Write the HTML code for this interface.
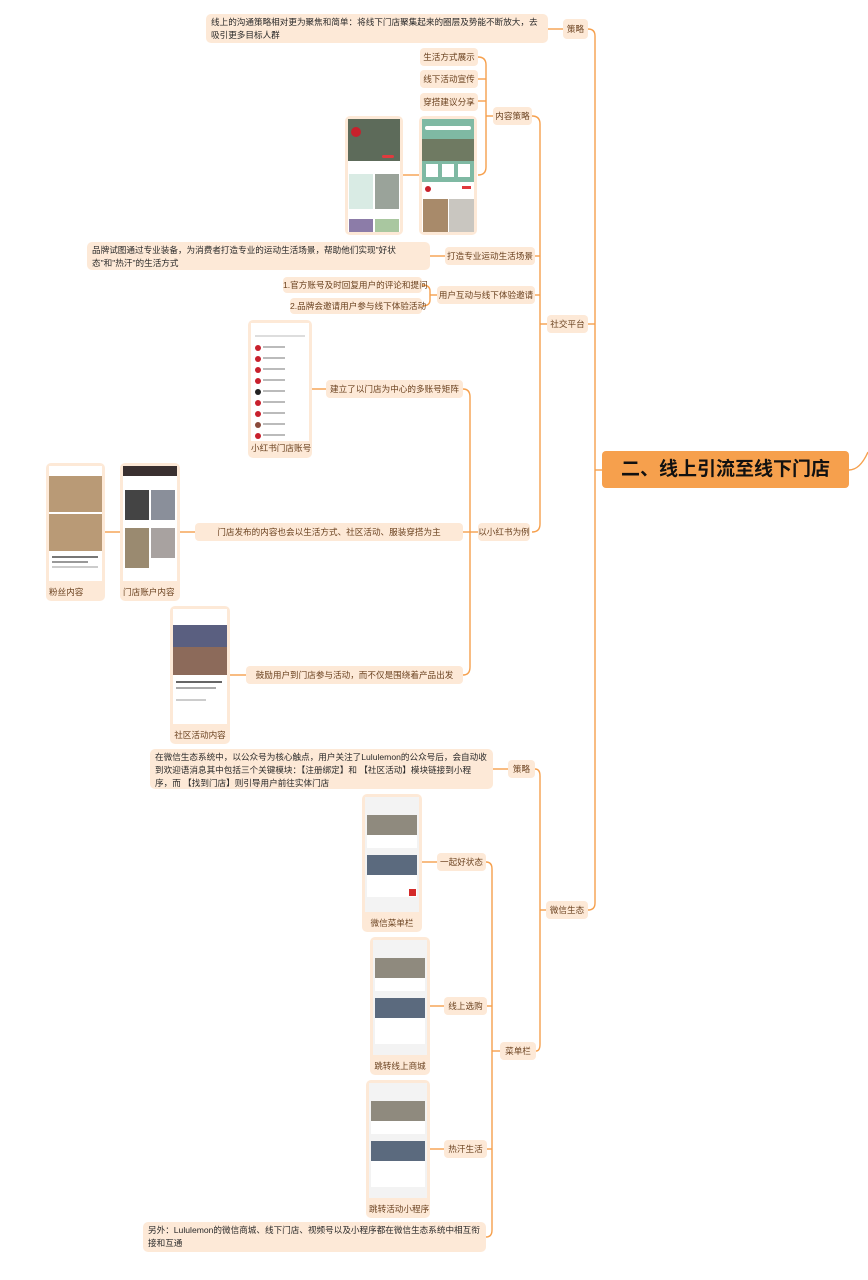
<!DOCTYPE html>
<html><head><meta charset="utf-8"><style>
body{margin:0;width:868px;height:1280px;background:#fff;position:relative;overflow:hidden;font-family:"Liberation Sans","Noto Sans CJK SC",sans-serif;}
.n{position:absolute;background:#fde9d7;border-radius:4px;color:#6b4220;font-size:8.6px;line-height:18px;text-align:center;white-space:nowrap;}
.t{position:absolute;background:#fde9d7;border-radius:5px;color:#2a2a2a;font-size:8.6px;line-height:13px;padding:2px 5px;box-sizing:border-box;}
.card{position:absolute;background:#fde9d7;border-radius:5px;box-sizing:border-box;padding:3px;}
.scr{background:#fff;overflow:hidden;position:relative;}
.lab{font-size:8.6px;color:#6b4220;text-align:center;line-height:14px;white-space:nowrap;}
.b{position:absolute;}
svg{position:absolute;left:0;top:0;}
.root{position:absolute;left:602px;top:451px;width:247px;height:37px;background:#f6a04d;border-radius:4px;font-size:19px;font-weight:bold;color:#111;line-height:37px;text-align:center;}
</style></head><body>
<svg width="868" height="1280" fill="none" stroke="#f6a04d" stroke-width="1.4">
<path d="M588 29 Q595 29 595 36 V903 Q595 910 588 910"/><path d="M595 470 H602"/><path d="M588 324 H595"/>
<path d="M849 470 Q860 470 868 452"/>
<path d="M548 29 H563"/>
<path d="M532 116 Q540 116 540 124 V524 Q540 532 532 532"/><path d="M535 256 H540"/><path d="M535 295 H540"/><path d="M540 324 H547"/>
<path d="M478 57 Q486 57 486 65 V167 Q486 175 478 175"/><path d="M478 79 H486"/><path d="M478 101 H486"/><path d="M486 116 H493"/>
<path d="M403 175 H419"/><path d="M430 256 H445"/>
<path d="M422 285 Q430 285 430 291 V300 Q430 306 422 306"/><path d="M430 295 H437"/>
<path d="M463 389 Q470 389 470 397 V667 Q470 675 463 675"/><path d="M470 532 H478"/><path d="M463 532 H470"/>
<path d="M312 389 H326"/><path d="M180 532 H195"/><path d="M105 532 H120"/><path d="M230 675 H246"/>
<path d="M535 769 Q540 769 540 776 V1044 Q540 1051 536 1051"/><path d="M540 910 H546"/><path d="M493 769 H508"/>
<path d="M486 862 Q492 862 492 869 V1230 Q492 1237 486 1237"/><path d="M492 1051 H500"/><path d="M487 1006 H492"/><path d="M487 1149 H492"/>
<path d="M422 862 H437"/><path d="M430 1006 H444"/><path d="M430 1149 H444"/>
</svg>

<div class="root">二、线上引流至线下门店</div>

<div class="n" style="left:563px;top:19px;width:25px;height:20px;line-height:20px">策略</div>
<div class="t" style="left:206px;top:14px;width:342px;height:29px">线上的沟通策略相对更为聚焦和简单：将线下门店聚集起来的圈层及势能不断放大，去吸引更多目标人群</div>

<div class="n" style="left:547px;top:315px;width:41px">社交平台</div>
<div class="n" style="left:493px;top:107px;width:39px">内容策略</div>
<div class="n" style="left:420px;top:48px;width:58px">生活方式展示</div>
<div class="n" style="left:420px;top:70px;width:58px">线下活动宣传</div>
<div class="n" style="left:420px;top:93px;width:58px">穿搭建议分享</div>

<div class="card" style="left:345px;top:116px;width:58px;height:119px"><div class="scr" style="height:113px">
<div class="b" style="left:0;top:0;width:52px;height:42px;background:#5d6b5a"></div>
<div class="b" style="left:3px;top:8px;width:10px;height:10px;border-radius:50%;background:#c8202c"></div>
<div class="b" style="left:34px;top:36px;width:12px;height:3px;background:#e03a3e;border-radius:2px"></div>
<div class="b" style="left:1px;top:55px;width:24px;height:35px;background:#d9ebe4"></div>
<div class="b" style="left:27px;top:55px;width:24px;height:35px;background:#9aa39a"></div>
<div class="b" style="left:1px;top:100px;width:24px;height:13px;background:#8c7ca8"></div>
<div class="b" style="left:27px;top:100px;width:24px;height:13px;background:#a9c7a0"></div>
</div></div>
<div class="card" style="left:419px;top:116px;width:58px;height:119px"><div class="scr" style="height:113px">
<div class="b" style="left:0;top:0;width:52px;height:63px;background:#7fb9a3"></div>
<div class="b" style="left:3px;top:7px;width:46px;height:4px;background:#fff;border-radius:2px"></div>
<div class="b" style="left:0;top:20px;width:52px;height:22px;background:#6f7a62"></div>
<div class="b" style="left:4px;top:45px;width:12px;height:13px;background:#fff"></div>
<div class="b" style="left:20px;top:45px;width:12px;height:13px;background:#fff"></div>
<div class="b" style="left:36px;top:45px;width:12px;height:13px;background:#fff"></div>
<div class="b" style="left:3px;top:67px;width:6px;height:6px;border-radius:50%;background:#c8202c"></div>
<div class="b" style="left:40px;top:67px;width:9px;height:3px;background:#e03a3e"></div>
<div class="b" style="left:1px;top:80px;width:25px;height:33px;background:#a88a6a"></div>
<div class="b" style="left:27px;top:80px;width:25px;height:33px;background:#c9c6c0"></div>
</div></div>

<div class="n" style="left:445px;top:247px;width:90px">打造专业运动生活场景</div>
<div class="t" style="left:87px;top:242px;width:343px;height:28px">品牌试图通过专业装备，为消费者打造专业的运动生活场景，帮助他们实现"好状态"和"热汗"的生活方式</div>
<div class="n" style="left:437px;top:286px;width:98px">用户互动与线下体验邀请</div>
<div class="n" style="left:283px;top:277px;width:139px;height:16px;line-height:16px">1.官方账号及时回复用户的评论和提问</div>
<div class="n" style="left:290px;top:298px;width:132px;height:16px;line-height:16px">2.品牌会邀请用户参与线下体验活动</div>

<div class="n" style="left:478px;top:523px;width:52px">以小红书为例</div>
<div class="n" style="left:326px;top:380px;width:137px">建立了以门店为中心的多账号矩阵</div>
<div class="card" style="left:248px;top:320px;width:64px;height:138px"><div class="scr" style="height:118px">
<div class="b" style="left:4px;top:12px;width:50px;height:2px;background:#ddd"></div>
<div class="b" style="left:4px;top:22px;width:6px;height:6px;border-radius:50%;background:#c8202c"></div><div class="b" style="left:12px;top:23px;width:22px;height:2px;background:#bbb"></div>
<div class="b" style="left:4px;top:33px;width:6px;height:6px;border-radius:50%;background:#c8202c"></div><div class="b" style="left:12px;top:34px;width:22px;height:2px;background:#bbb"></div>
<div class="b" style="left:4px;top:44px;width:6px;height:6px;border-radius:50%;background:#c8202c"></div><div class="b" style="left:12px;top:45px;width:22px;height:2px;background:#bbb"></div>
<div class="b" style="left:4px;top:55px;width:6px;height:6px;border-radius:50%;background:#c8202c"></div><div class="b" style="left:12px;top:56px;width:22px;height:2px;background:#bbb"></div>
<div class="b" style="left:4px;top:66px;width:6px;height:6px;border-radius:50%;background:#222"></div><div class="b" style="left:12px;top:67px;width:22px;height:2px;background:#bbb"></div>
<div class="b" style="left:4px;top:77px;width:6px;height:6px;border-radius:50%;background:#c8202c"></div><div class="b" style="left:12px;top:78px;width:22px;height:2px;background:#bbb"></div>
<div class="b" style="left:4px;top:88px;width:6px;height:6px;border-radius:50%;background:#c8202c"></div><div class="b" style="left:12px;top:89px;width:22px;height:2px;background:#bbb"></div>
<div class="b" style="left:4px;top:99px;width:6px;height:6px;border-radius:50%;background:#8a4a3a"></div><div class="b" style="left:12px;top:100px;width:22px;height:2px;background:#bbb"></div>
<div class="b" style="left:4px;top:110px;width:6px;height:6px;border-radius:50%;background:#c8202c"></div><div class="b" style="left:12px;top:111px;width:22px;height:2px;background:#bbb"></div>
</div><div class="lab">小红书门店账号</div></div>

<div class="n" style="left:195px;top:523px;width:268px">门店发布的内容也会以生活方式、社区活动、服装穿搭为主</div>
<div class="card" style="left:46px;top:463px;width:59px;height:138px"><div class="scr" style="height:115px">
<div class="b" style="left:0;top:10px;width:53px;height:75px;background:#b99a76"></div>
<div class="b" style="left:0;top:46px;width:53px;height:2px;background:#fff"></div>
<div class="b" style="left:3px;top:90px;width:46px;height:2px;background:#777"></div>
<div class="b" style="left:3px;top:95px;width:36px;height:2px;background:#999"></div>
<div class="b" style="left:3px;top:100px;width:46px;height:2px;background:#ccc"></div>
</div><div class="lab" style="margin-top:4px;text-align:left">粉丝内容</div></div>
<div class="card" style="left:120px;top:463px;width:60px;height:138px"><div class="scr" style="height:115px">
<div class="b" style="left:0;top:0;width:54px;height:10px;background:#3a3030"></div>
<div class="b" style="left:2px;top:24px;width:24px;height:30px;background:#444"></div>
<div class="b" style="left:28px;top:24px;width:24px;height:30px;background:#8a8f9a"></div>
<div class="b" style="left:2px;top:62px;width:24px;height:40px;background:#9a8a70"></div>
<div class="b" style="left:28px;top:62px;width:24px;height:30px;background:#a8a2a0"></div>
</div><div class="lab" style="margin-top:4px;text-align:left">门店账户内容</div></div>

<div class="n" style="left:246px;top:666px;width:217px">鼓励用户到门店参与活动，而不仅是围绕着产品出发</div>
<div class="card" style="left:170px;top:606px;width:60px;height:138px"><div class="scr" style="height:115px">
<div class="b" style="left:0;top:16px;width:54px;height:50px;background:#5a5f80"></div>
<div class="b" style="left:0;top:38px;width:54px;height:28px;background:#8c6a5a"></div>
<div class="b" style="left:3px;top:72px;width:46px;height:2px;background:#666"></div>
<div class="b" style="left:3px;top:78px;width:40px;height:2px;background:#aaa"></div>
<div class="b" style="left:3px;top:90px;width:30px;height:2px;background:#ccc"></div>
</div><div class="lab" style="margin-top:4px">社区活动内容</div></div>

<div class="n" style="left:546px;top:901px;width:42px">微信生态</div>
<div class="n" style="left:508px;top:760px;width:27px">策略</div>
<div class="t" style="left:150px;top:749px;width:343px;height:40px">在微信生态系统中，以公众号为核心触点，用户关注了Lululemon的公众号后，会自动收到欢迎语消息其中包括三个关键模块：【注册绑定】和 【社区活动】模块链接到小程序，而 【找到门店】则引导用户前往实体门店</div>
<div class="n" style="left:500px;top:1042px;width:36px">菜单栏</div>
<div class="n" style="left:437px;top:853px;width:49px">一起好状态</div>
<div class="n" style="left:444px;top:997px;width:43px">线上选购</div>
<div class="n" style="left:444px;top:1140px;width:43px">热汗生活</div>

<div class="card" style="left:362px;top:794px;width:60px;height:138px"><div class="scr" style="height:115px;background:#f3f3f3">
<div class="b" style="left:2px;top:18px;width:50px;height:20px;background:#8f8a7e"></div>
<div class="b" style="left:2px;top:38px;width:50px;height:13px;background:#fff"></div>
<div class="b" style="left:2px;top:58px;width:50px;height:20px;background:#5b6a7e"></div>
<div class="b" style="left:2px;top:78px;width:50px;height:22px;background:#fff"></div>
<div class="b" style="left:44px;top:92px;width:7px;height:7px;background:#d42a2a"></div>
</div><div class="lab" style="margin-top:4px">微信菜单栏</div></div>
<div class="card" style="left:370px;top:937px;width:60px;height:138px"><div class="scr" style="height:115px;background:#f3f3f3">
<div class="b" style="left:2px;top:18px;width:50px;height:20px;background:#8f8a7e"></div>
<div class="b" style="left:2px;top:38px;width:50px;height:13px;background:#fff"></div>
<div class="b" style="left:2px;top:58px;width:50px;height:20px;background:#5b6a7e"></div>
<div class="b" style="left:2px;top:78px;width:50px;height:26px;background:#fff"></div>
</div><div class="lab" style="margin-top:4px">跳转线上商城</div></div>
<div class="card" style="left:366px;top:1080px;width:64px;height:138px"><div class="scr" style="height:115px;background:#f3f3f3">
<div class="b" style="left:2px;top:18px;width:54px;height:20px;background:#8f8a7e"></div>
<div class="b" style="left:2px;top:38px;width:54px;height:13px;background:#fff"></div>
<div class="b" style="left:2px;top:58px;width:54px;height:20px;background:#5b6a7e"></div>
<div class="b" style="left:2px;top:78px;width:54px;height:26px;background:#fff"></div>
</div><div class="lab" style="margin-top:4px">跳转活动小程序</div></div>

<div class="t" style="left:143px;top:1222px;width:343px;height:30px">另外：Lululemon的微信商城、线下门店、视频号以及小程序都在微信生态系统中相互衔接和互通</div>
</body></html>
